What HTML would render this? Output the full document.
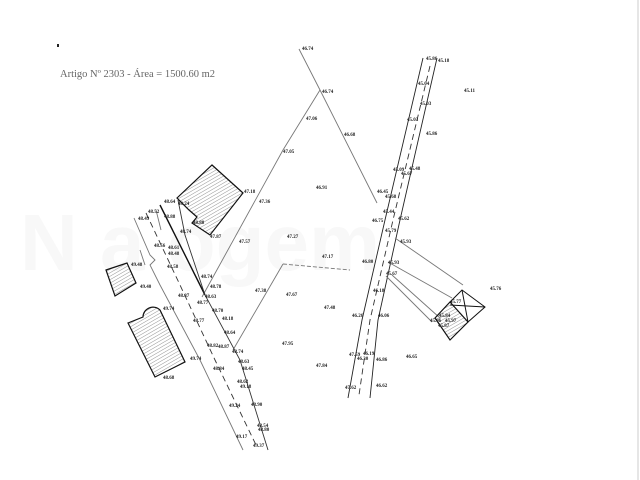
<!DOCTYPE html>
<html><head><meta charset="utf-8"><style>
html,body{margin:0;padding:0;background:#fff;}
svg{display:block}
.t{font-family:"Liberation Serif",serif;font-size:5px;font-weight:bold;fill:#222}
</style></head><body>
<svg width="640" height="480" viewBox="0 0 640 480" xmlns="http://www.w3.org/2000/svg">
<rect width="640" height="480" fill="#fff"/>
<text x="20" y="270" font-family="Liberation Sans,sans-serif" font-size="80" font-weight="bold" fill="#f8f8f8">N   a     ogem</text>
<rect x="57" y="44" width="2" height="3" fill="#222"/>
<text x="60" y="77" font-family="Liberation Serif,serif" font-size="10.5" fill="#666">Artigo Nº 2303 - Área = 1500.60 m2</text>
<line x1="638" y1="0" x2="638" y2="480" stroke="#ccc" stroke-width="1"/>

<g fill="none" stroke="#777" stroke-width="0.9">
<polyline points="299,49 320,90 377,203"/>
<polyline points="320,90 283,150 202,297"/>
<polyline points="283,264 233,350"/>
<polyline points="283,264 350,270" stroke-dasharray="4,2"/>
<polyline points="423,58 385,220 362,320 348,398" stroke="#222"/>
<polyline points="437,58 400,220 378,320 370,398" stroke="#222"/>
<polyline points="430,66 393,220 370,320 359,395" stroke="#333" stroke-dasharray="6,4"/>
<line x1="395" y1="238" x2="463" y2="285"/>
<line x1="388" y1="262" x2="452" y2="298"/>
<line x1="392" y1="275" x2="440" y2="318"/>
<line x1="386" y1="276" x2="432" y2="322"/>
<polyline points="134,218 150,255 155,260 150,265 160,285 200,360 243,450"/>
<polyline points="146,213 180,285 215,360 257,447" stroke="#333" stroke-dasharray="6,4"/>
<polyline points="160,205 205,295" stroke="#111" stroke-width="1.4"/>
<polyline points="178,200 185,235 205,295 240,360 268,450" stroke="#333"/>
<polyline points="156,210 161,230"/>
<polyline points="140,250 145,265"/>
</g>
<defs><pattern id="h" width="3" height="3" patternUnits="userSpaceOnUse" patternTransform="rotate(60)"><line x1="0" y1="0" x2="0" y2="3" stroke="#777" stroke-width="0.8"/></pattern></defs>
<g stroke="#111" stroke-width="1.2" fill="url(#h)">
<polygon points="177,198 212,165 243,193 210,235 192,223 197,217 189,210"/>
<polygon points="106,270 127,263 136,283 115,296"/>
<path d="M128,323 L143,317 A10,10 0 0 1 160,310 L185,362 L155,377 Z"/>
<polygon points="435,318 450,302 468,322 450,340"/>
</g>
<g stroke="#111" stroke-width="1" fill="none">
<polyline points="450,302 462,290 485,307 468,322"/>
<line x1="462" y1="290" x2="468" y2="322"/>
<line x1="450" y1="305" x2="485" y2="307"/>
</g>
<g class="t">
<text x="302" y="50">46.74</text><text x="322" y="93">46.74</text><text x="306" y="120">47.06</text>
<text x="344" y="136">46.68</text><text x="283" y="153">47.05</text><text x="316" y="189">46.91</text>
<text x="244" y="193">47.18</text><text x="259" y="203">47.36</text><text x="239" y="243">47.57</text>
<text x="287" y="238">47.27</text><text x="322" y="258">47.17</text><text x="255" y="292">47.38</text>
<text x="286" y="296">47.67</text><text x="324" y="309">47.48</text><text x="282" y="345">47.95</text>
<text x="316" y="367">47.84</text><text x="426" y="60">45.86</text><text x="438" y="62">45.18</text>
<text x="464" y="92">45.11</text><text x="418" y="85">45.04</text><text x="420" y="105">45.03</text>
<text x="407" y="121">45.03</text><text x="426" y="135">45.86</text><text x="393" y="171">45.09</text>
<text x="409" y="170">45.48</text><text x="401" y="175">45.67</text><text x="377" y="193">46.45</text>
<text x="385" y="198">45.68</text><text x="383" y="213">45.44</text><text x="398" y="220">45.62</text>
<text x="372" y="222">46.75</text><text x="385" y="232">45.79</text><text x="400" y="243">45.93</text>
<text x="362" y="263">46.80</text><text x="388" y="264">45.93</text><text x="386" y="275">45.67</text>
<text x="373" y="292">46.18</text><text x="352" y="317">46.26</text><text x="378" y="317">46.06</text>
<text x="406" y="358">46.65</text><text x="349" y="356">47.59</text><text x="363" y="355">46.19</text>
<text x="357" y="360">46.30</text><text x="376" y="361">46.86</text><text x="376" y="387">46.62</text>
<text x="345" y="389">47.62</text><text x="490" y="290">45.76</text><text x="450" y="303">45.77</text>
<text x="439" y="317">45.84</text><text x="430" y="322">45.96</text><text x="445" y="322">45.97</text>
<text x="438" y="327">45.87</text>
<text x="178" y="205">48.24</text><text x="193" y="224">48.88</text><text x="210" y="238">47.87</text>
<text x="164" y="203">48.64</text><text x="148" y="213">48.52</text><text x="138" y="220">48.49</text>
<text x="164" y="218">48.88</text><text x="180" y="233">48.74</text><text x="168" y="249">48.61</text>
<text x="154" y="247">48.56</text><text x="168" y="255">48.48</text><text x="167" y="268">48.58</text>
<text x="131" y="266">49.48</text><text x="140" y="288">49.40</text><text x="201" y="278">48.74</text>
<text x="210" y="288">48.78</text><text x="178" y="297">48.87</text><text x="205" y="298">48.63</text>
<text x="197" y="304">48.77</text><text x="212" y="312">48.70</text><text x="193" y="322">48.77</text>
<text x="222" y="320">48.18</text><text x="163" y="310">49.74</text><text x="224" y="334">48.64</text>
<text x="218" y="348">48.87</text><text x="207" y="347">48.82</text><text x="232" y="353">48.74</text>
<text x="190" y="360">49.74</text><text x="213" y="370">48.84</text><text x="238" y="363">48.63</text>
<text x="242" y="370">48.45</text><text x="237" y="383">48.62</text><text x="163" y="379">48.68</text>
<text x="240" y="388">49.18</text><text x="251" y="406">48.90</text><text x="229" y="407">49.24</text>
<text x="257" y="427">48.54</text><text x="258" y="431">48.80</text><text x="236" y="438">49.17</text>
<text x="253" y="447">49.37</text>
</g>
</svg>
</body></html>
